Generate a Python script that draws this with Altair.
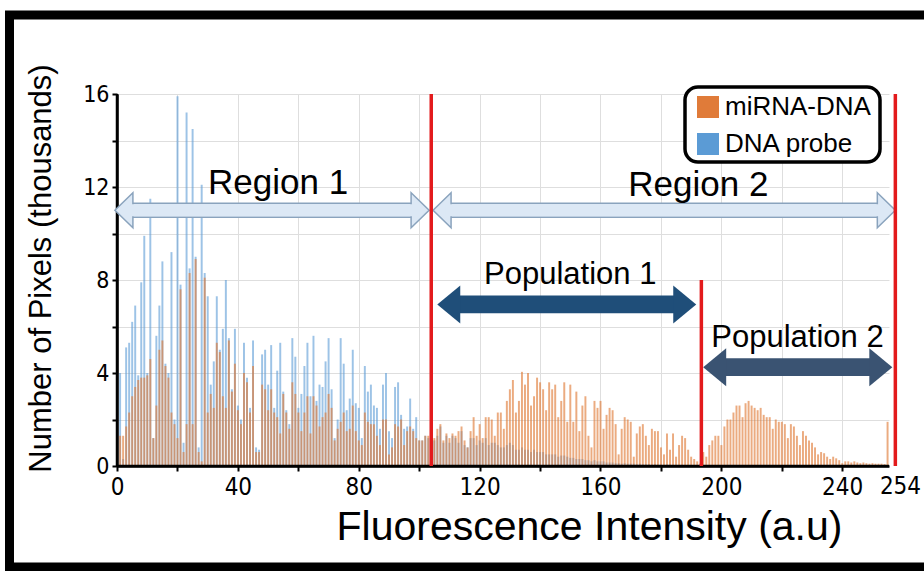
import altair as alt
import pandas as pd

# ---------------- data (thousands of pixels per intensity bin) ----------------
dna_probe = [
    2.9, 4.0, 0.3, 5.1, 5.3, 6.2, 6.9, 3.9, 7.9, 9.9,
    4.0, 11.5, 1.2, 5.6, 6.9, 8.8, 4.4, 4.0, 9.2, 2.0,
    15.9, 7.8, 1.0, 15.2, 8.5, 14.5, 9.0, 0.8, 12.1, 8.3,
    7.3, 3.5, 4.5, 7.3, 5.0, 5.9, 8.0, 5.5, 3.3, 5.9,
    2.6, 2.0, 5.3, 3.8, 2.5, 5.4, 0.8, 0.7, 4.8, 5.0,
    3.5, 5.2, 2.5, 4.1, 5.3, 3.2, 2.4, 1.8, 5.5, 4.7,
    2.5, 3.1, 4.3, 5.3, 3.0, 5.6, 2.8, 3.5, 3.4, 4.5,
    5.5, 3.3, 1.2, 2.0, 5.5, 4.4, 2.4, 2.9, 5.0, 2.7,
    2.5, 1.2, 4.3, 3.2, 3.5, 2.6, 2.5, 1.6, 3.5, 4.0,
    1.5, 1.2, 3.4, 3.6, 2.2, 1.6, 1.7, 2.9, 1.6, 2.1,
    1.1, 1.1, 1.3, 1.2, 1.0, 1.1, 1.3, 1.7, 1.0, 1.3,
    1.0, 1.3, 1.2, 1.0, 1.5, 0.9, 0.8, 1.2, 1.2, 0.9,
    1.1, 1.0, 1.2, 0.9, 1.0, 1.0, 0.9, 0.8, 0.8, 0.9,
    1.0, 0.9, 0.7, 0.7, 0.8, 0.7, 0.7, 0.6, 0.7, 0.6,
    0.6, 0.6, 0.5, 0.5, 0.5, 0.5, 0.4, 0.45, 0.45, 0.4,
    0.35, 0.35, 0.3, 0.3, 0.3, 0.25, 0.25, 0.2, 0.25, 0.2,
    0.2, 0.2, 0.15, 0.15, 0.15, 0.12, 0.12, 0.1, 0.12, 0.1,
    0.1, 0.1, 0.08, 0.1, 0.08, 0.08, 0.08, 0.06, 0.08, 0.06,
    0.06, 0.05, 0.06, 0.05, 0.05, 0.05, 0.04, 0.05, 0.04, 0.04,
    0.04, 0.04, 0.03, 0.04, 0.03, 0.03, 0.04, 0.03, 0.03, 0.03,
    0.03, 0.03, 0.03, 0.03, 0.03, 0.03, 0.03, 0.03, 0.03, 0.03,
    0.03, 0.03, 0.03, 0.03, 0.03, 0.03, 0.03, 0.03, 0.03, 0.03,
    0.02, 0.02, 0.02, 0.02, 0.02, 0.02, 0.02, 0.02, 0.02, 0.02,
    0.02, 0.02, 0.02, 0.02, 0.02, 0.02, 0.02, 0.02, 0.02, 0.02,
    0.02, 0.02, 0.02, 0.02, 0.02, 0.02, 0.02, 0.02, 0.02, 0.02,
    0.02, 0.02, 0.02, 0.02, 0.02, 0.02,
]

mirna_dna = [
    2.2, 1.3, 1.3, 1.7, 2.3, 3.0, 3.4, 3.7, 3.8, 3.8,
    3.9, 4.6, 1.2, 2.6, 5.0, 5.4, 4.3, 3.8, 2.3, 1.8,
    1.2, 7.6, 0.6, 1.8, 8.3, 1.8, 8.9, 0.6, 0.2, 8.1,
    2.3, 3.1, 2.5, 5.3, 4.9, 3.0, 2.5, 5.4, 3.2, 4.4,
    2.4, 1.8, 4.0, 3.6, 2.3, 4.3, 0.6, 0.6, 3.5, 3.3,
    2.4, 3.3, 2.3, 2.1, 1.4, 3.1, 2.3, 1.6, 3.6, 3.1,
    2.3, 1.5, 2.3, 3.0, 1.4, 3.0, 2.6, 1.7, 2.1, 2.3,
    3.1, 2.5, 1.1, 1.6, 1.9, 2.3, 1.5, 1.6, 2.6, 1.5,
    1.1, 0.9, 2.3, 1.9, 1.8, 1.8, 1.3, 0.9, 2.0, 2.0,
    0.5, 0.8, 1.8, 1.7, 2.0, 0.9, 1.5, 1.7, 1.5, 1.2,
    1.1, 1.1, 1.3, 1.3, 1.1, 1.2, 1.6, 1.8, 1.1, 1.4,
    1.2, 1.4, 1.3, 1.5, 1.7, 1.1, 0.8, 1.5, 2.1, 1.3,
    1.8, 1.2, 2.1, 2.1, 2.0, 1.3, 2.3, 2.3, 1.6, 2.8,
    3.3, 3.7, 2.3, 2.8, 4.05, 3.5, 4.0, 2.6, 3.0, 3.8,
    3.6, 3.3, 2.4, 3.6, 3.3, 3.5, 2.1, 2.8, 3.6, 1.9,
    3.5, 1.9, 3.2, 1.5, 2.6, 3.0, 1.3, 0.8, 2.8, 2.5,
    2.8, 1.6, 2.2, 2.5, 2.4, 1.8, 0.5, 1.6, 2.1, 2.0,
    1.9, 0.4, 1.4, 1.7, 1.8, 1.3, 0.9, 1.6, 1.5, 1.5,
    0.8, 0.5, 1.4, 0.7, 1.4, 0.4, 0.9, 1.3, 1.2, 0.7,
    0.4, 0.3, 0.2, 0.1, 0.6, 0.4, 0.9, 1.1, 1.3, 1.3,
    0.9, 1.7, 2.0, 2.0, 2.3, 2.6, 2.6, 2.1, 2.7, 2.8,
    2.6, 2.5, 2.4, 2.5, 2.2, 2.1, 2.1, 1.6, 2.0, 1.9,
    1.9, 1.8, 1.2, 1.8, 1.7, 1.3, 0.9, 1.5, 1.3, 1.1,
    1.0, 0.8, 0.5, 0.6, 0.55, 0.4, 0.3, 0.4, 0.33, 0.25,
    0.12, 0.2, 0.2, 0.15, 0.2, 0.15, 0.12, 0.15, 0.12, 0.1,
    0.12, 0.1, 0.1, 0.1, 0.08, 1.9,
]

series_names = ["miRNA-DNA", "DNA probe"]
series_colors = ["#e07b39", "#5b9bd5"]

x_ticks = list(range(0, 241, 20))
y_ticks = list(range(0, 17, 2))

boundary_x = [104.0, 193.4, 257.6]
boundary_top = [16.0, 8.0, 16.0]

arrow_labels = ["Region 1", "Region 2", "Population 1", "Population 2"]
arrow_from = [-0.7, 104.6, 106.0, 194.0]
arrow_to = [103.3, 257.6, 191.7, 256.6]
arrow_y = [11.0, 11.0, 6.95, 4.25]
label_x = [53.3, 192.4, 150.0, 225.2]
label_y = [11.7, 11.63, 7.81, 5.1]

end_label = ["254"]
end_label_x = [259.3]

# ---------------- styles ----------------
SANS = "Liberation Sans, Arial, sans-serif"
NARROW = "Liberation Sans Narrow, DejaVu Sans Condensed, Arial Narrow, sans-serif"
REG_FILL = "#dce8f5"
REG_EDGE = "#8aa3bd"
POP1 = "#1f4e79"
POP2 = "#3a5372"
RED = "#e31a1c"
GRID = "#dedede"

W, H = 772, 372

xscale = alt.Scale(domain=[0, 255.5], nice=False, zero=False)
yscale = alt.Scale(domain=[0, 16], nice=False)
color_scale = alt.Scale(domain=series_names, range=series_colors)

x_axis = alt.Axis(
    values=x_ticks, labelExpr="datum.value % 40 == 0 ? datum.label : ''",
    title="Fluorescence Intensity (a.u)", grid=True, gridColor=GRID, gridWidth=1,
    domainColor="black", domainWidth=2.5, tickColor="black", tickWidth=2, tickSize=5,
    labelFont=NARROW, labelFontSize=24, labelColor="black", labelPadding=4, labelFlush=False,
    titleFont=SANS, titleFontSize=41, titleFontWeight="normal", titleColor="black",
    titleX=472, titleY=73, titleAlign="center", titleBaseline="alphabetic",
)
y_axis = alt.Axis(
    values=y_ticks, labelExpr="datum.value % 4 == 0 ? datum.label : ''",
    title="Number of Pixels (thousands)", grid=True, gridColor=GRID, gridWidth=1,
    domainColor="black", domainWidth=2.5, tickColor="black", tickWidth=2, tickSize=5,
    labelFont=NARROW, labelFontSize=23, labelColor="black", labelPadding=3,
    titleFont=SANS, titleFontSize=31, titleFontWeight="normal", titleColor="black",
    titleAngle=270, titleX=-76, titleY=174, titleAlign="center", titleBaseline="middle",
)
legend = alt.Legend(
    title=None, orient="none", legendX=573, legendY=-3, padding=3,
    symbolType="square", symbolSize=484, symbolStrokeWidth=0, symbolOpacity=1, symbolOffset=2,
    labelFont=SANS, labelFontSize=26, labelColor="black", labelOffset=4, rowPadding=11, labelLimit=400,
)


def X(field):
    return alt.X(field, type="quantitative", scale=xscale, axis=x_axis)


def Y(field):
    return alt.Y(field, type="quantitative", scale=yscale, axis=y_axis)


def bars(values, name, opacity):
    df = pd.DataFrame({"intensity": list(range(len(values))), "count": values, "series": name})
    return alt.Chart(df).transform_calculate(
        lo="datum.intensity - 0.3", hi="datum.intensity + 0.35", base="0"
    ).mark_bar(opacity=opacity, strokeWidth=0).encode(
        x=X("lo"),
        x2="hi:Q",
        y=Y("count"),
        y2="base:Q",
        color=alt.Color("series:N", scale=color_scale, legend=legend),
    )


one = pd.DataFrame({"a": [0]})
axis_ends = pd.DataFrame({"x0": [0.0], "x1": [255.5], "y0": [0.0], "y1": [16.0]})

frame = alt.Chart(one).mark_rect(fillOpacity=0, stroke="black", strokeWidth=9).encode(
    x=alt.value(-107.5), x2=alt.value(818), y=alt.value(-79), y2=alt.value(473)
)

legend_box = alt.Chart(one).mark_rect(
    fill="white", stroke="black", strokeWidth=3.5, cornerRadius=13
).encode(x=alt.value(568), x2=alt.value(763), y=alt.value(-7), y2=alt.value(68))

blue_bars = bars(dna_probe, "DNA probe", 0.6)
orange_bars = bars(mirna_dna, "miRNA-DNA", 0.64)

x_line = alt.Chart(axis_ends).mark_rule(color="black", strokeWidth=2.5).encode(
    x=X("x0"), x2="x1:Q", y=Y("y0")
)
y_line = alt.Chart(axis_ends).mark_rule(color="black", strokeWidth=2.5).encode(
    x=X("x0"), y=Y("y0"), y2="y1:Q"
)

arrows = pd.DataFrame({
    "label": arrow_labels, "x_from": arrow_from, "x_to": arrow_to,
    "y": arrow_y, "tx": label_x, "ty": label_y,
})
region = alt.Chart(arrows).transform_filter("indexof(datum.label, 'Region') == 0")
pop = alt.Chart(arrows).transform_filter("indexof(datum.label, 'Population') == 0")

REG_R = "M0,0L-1.03,-1L-1.03,1Z"
REG_L = "M0,0L1.03,-1L1.03,1Z"
POP_R = "M0,0L-1.21,-1L-1.21,1Z"
POP_L = "M0,0L1.21,-1L1.21,1Z"

region_shaft = region.transform_calculate(
    s0="datum.x_from + 4.5", s1="datum.x_to - 4.5", y0="datum.y - 0.3", y1="datum.y + 0.3"
).mark_rect(fill=REG_FILL, stroke=REG_EDGE, strokeWidth=1.5).encode(
    x=X("s0"), x2="s1:Q", y=Y("y0"), y2="y1:Q"
)
region_head_l = region.mark_point(
    shape=REG_L, size=1225, filled=True, fill=REG_FILL, stroke=REG_EDGE, strokeWidth=1.5, opacity=1
).encode(x=X("x_from"), y=Y("y"))
region_head_r = region.mark_point(
    shape=REG_R, size=1225, filled=True, fill=REG_FILL, stroke=REG_EDGE, strokeWidth=1.5, opacity=1
).encode(x=X("x_to"), y=Y("y"))
region_cover = region.transform_calculate(
    s0="datum.x_from + 4", s1="datum.x_to - 4", y0="datum.y - 0.26", y1="datum.y + 0.26"
).mark_rect(fill=REG_FILL, strokeWidth=0).encode(
    x=X("s0"), x2="s1:Q", y=Y("y0"), y2="y1:Q"
)

pop_fill = alt.condition("datum.label == 'Population 1'", alt.value(POP1), alt.value(POP2))
pop_shaft = pop.transform_calculate(
    s0="datum.x_from + 4.5", s1="datum.x_to - 4.5", y0="datum.y - 0.38", y1="datum.y + 0.38"
).mark_rect(strokeWidth=0).encode(
    x=X("s0"), x2="s1:Q", y=Y("y0"), y2="y1:Q", fill=pop_fill
)
pop_head_l = pop.mark_point(shape=POP_L, size=1444, filled=True, strokeWidth=0, opacity=1).encode(
    x=X("x_from"), y=Y("y"), fill=pop_fill
)
pop_head_r = pop.mark_point(shape=POP_R, size=1444, filled=True, strokeWidth=0, opacity=1).encode(
    x=X("x_to"), y=Y("y"), fill=pop_fill
)

region_text = region.mark_text(font=SANS, fontSize=35, color="black", align="center", baseline="alphabetic").encode(
    x=X("tx"), y=Y("ty"), text="label:N"
)
pop_text = pop.mark_text(font=SANS, fontSize=31, color="black", align="center", baseline="alphabetic").encode(
    x=X("tx"), y=Y("ty"), text="label:N"
)

rules_df = pd.DataFrame({"x": boundary_x, "top": boundary_top})
red_rules = alt.Chart(rules_df).transform_calculate(base="0").mark_rule(color=RED, strokeWidth=3.5).encode(
    x=X("x"), y=Y("base"), y2="top:Q"
)

end_df = pd.DataFrame({"t": end_label, "x": end_label_x})
end_text = alt.Chart(end_df).mark_text(font=NARROW, fontSize=24, color="black", align="center", baseline="top").encode(
    x=X("x"), y=alt.value(H + 9), text="t:N"
)

chart = alt.layer(
    blue_bars, orange_bars, x_line, y_line,
    region_shaft, region_head_l, region_head_r, region_cover,
    pop_shaft, pop_head_l, pop_head_r,
    region_text, pop_text, red_rules, end_text, legend_box, frame,
).properties(
    width=W, height=H,
    autosize=alt.AutoSizeParams(type="none"),
    padding={"left": 117, "top": 94, "right": 35, "bottom": 105},
    background="white",
).configure_view(stroke="transparent")

chart.save("out.html", embed_options={"renderer": "svg", "actions": False})
